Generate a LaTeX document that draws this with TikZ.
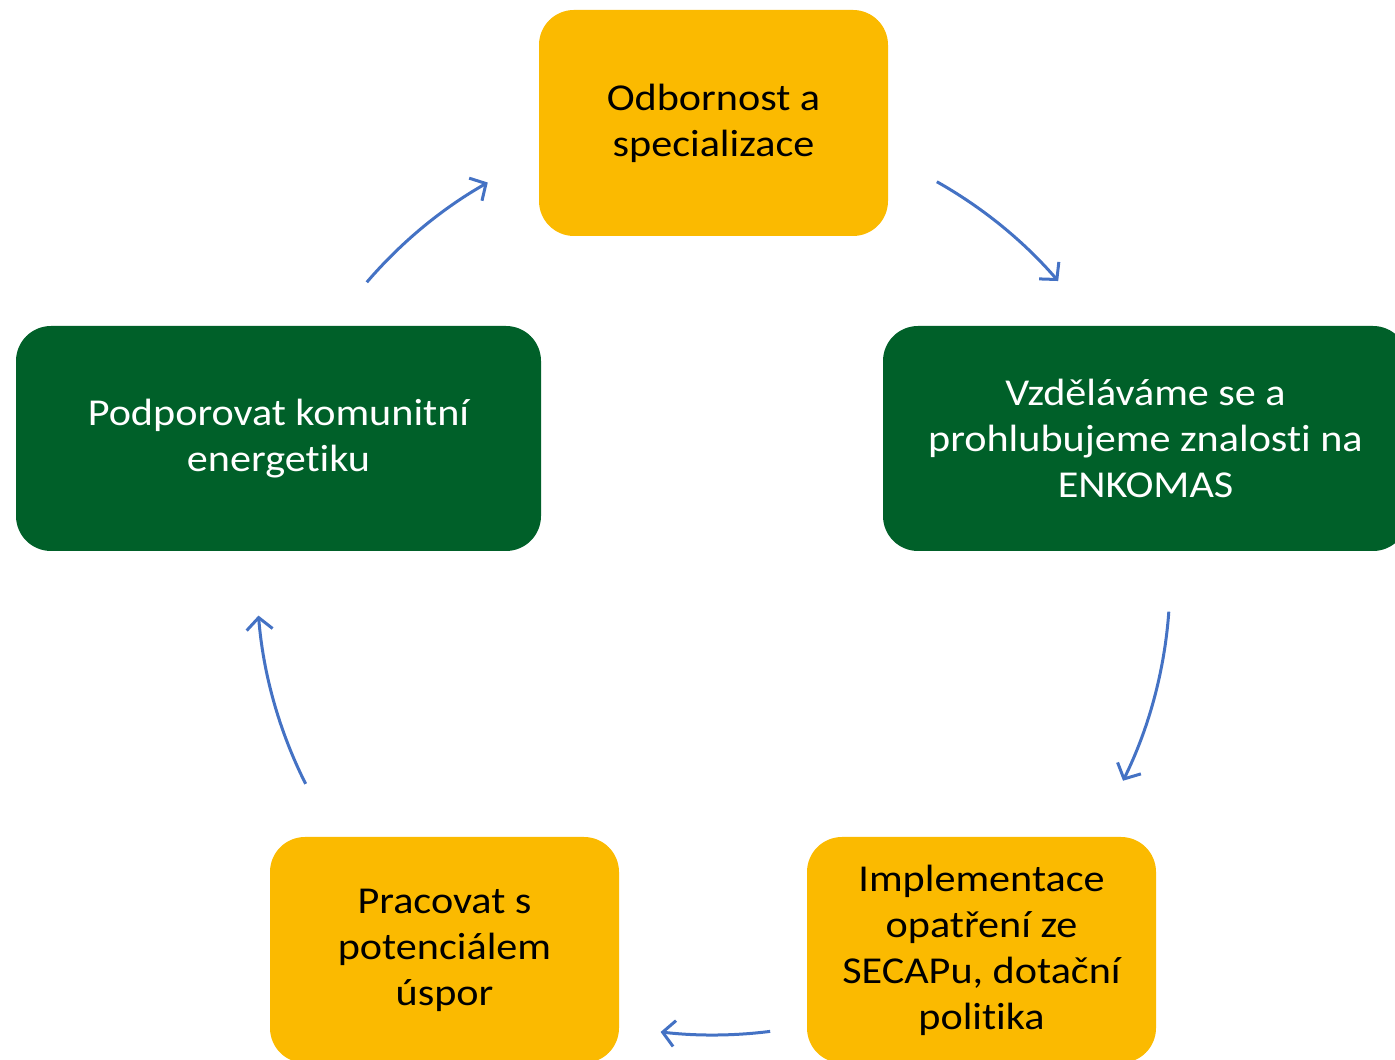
\documentclass[tikz,border=0pt]{standalone}
\usepackage{fontspec}
\setmainfont{Carlito}[FakeStretch=1.11,Ligatures=NoCommon]
\usetikzlibrary{arrows.meta}
\definecolor{boxorange}{RGB}{251,186,0}
\definecolor{boxgreen}{RGB}{0,96,41}
\definecolor{arrowblue}{RGB}{68,114,196}
\begin{document}
\begin{tikzpicture}[x=1pt,y=1pt,
  box/.style={rectangle,rounded corners=35pt,inner sep=0pt,minimum width=349pt,minimum height=226pt,
    align=center,font=\fontsize{38}{46}\selectfont},
  obox/.style={box,fill=boxorange,text=black},
  gbox/.style={box,fill=boxgreen,text=white,minimum width=525pt,minimum height=225pt},
  cyc/.style={draw=arrowblue,line width=3pt,-{Straight Barb[length=12pt,width=26pt,line width=3pt]}}]
\useasboundingbox (0,0) rectangle (1395,1060);
\clip (0,0) rectangle (1395,1060);
\node[obox] (top) at (713.5,937) {Odbornost a\\specializace};
\node[gbox] (right) at (1145.5,621.5) {Vzděláváme se a\\prohlubujeme znalosti na\\ENKOMAS};
\node[obox] (bright) at (981.5,110) {Implementace\\opatření ze\\SECAPu, dotační\\politika};
\node[obox] (bleft) at (444.5,110) {Pracovat s\\potenciálem\\úspor};
\node[gbox] (left) at (278.5,621.5) {Podporovat komunitní\\energetiku};
\coordinate (c) at (713,481);
\draw[cyc] (c) ++(139.4:456pt) arc[start angle=139.4,end angle=119.6,radius=456pt];
\draw[cyc] (c) ++(60.6:456pt) arc[start angle=60.6,end angle=40.8,radius=456pt];
\draw[cyc] (c) ++(-4.1:457pt) arc[start angle=-4.1,end angle=-26.2,radius=457pt];
\draw[cyc] (c) ++(-82.8:456pt) arc[start angle=-82.8,end angle=-96.6,radius=456pt];
\draw[cyc] (c) ++(206.7:456pt) arc[start angle=206.7,end angle=184.6,radius=456pt];
\end{tikzpicture}
\end{document}
